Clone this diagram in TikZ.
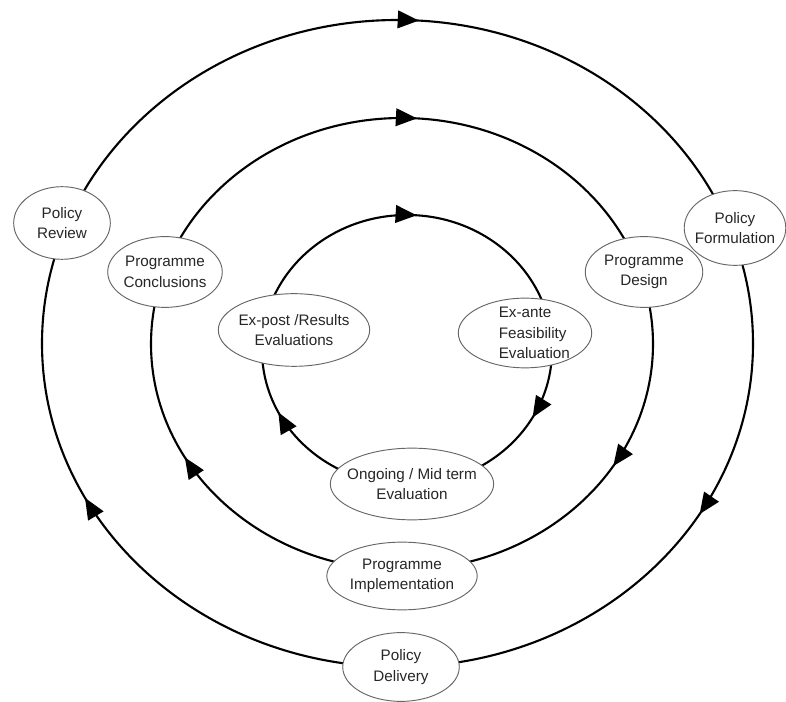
\documentclass[tikz,border=0pt]{standalone}
\usepackage{fontspec}
\setmainfont{Liberation Sans}
\usetikzlibrary{shapes.geometric,arrows.meta,decorations.markings}

\begin{document}
\begin{tikzpicture}[
    x=0.03cm, y=0.03cm,
    stage/.style={
        ellipse,
        draw=black!60,
        line width=0.8pt,
        fill=white,
        inner sep=0pt,
    },
    stagetext/.style={
        inner sep=0pt,
        align=center,
        text=black!85,
        font=\fontsize{13}{17.5}\selectfont,
    },
    ring/.style n args={3}{
        line width=1.8pt,
        postaction={decorate},
        decoration={markings,
            mark=at position #1 with {\arrowreversed{Triangle[length=18pt,width=15pt]}},
            mark=at position #2 with {\arrowreversed{Triangle[length=18pt,width=15pt]}},
            mark=at position #3 with {\arrowreversed{Triangle[length=18pt,width=15pt]}},
        },
    },
]
    \useasboundingbox (0,0) rectangle (786,702);

    % the three cycles, drawn first so the stages sit on top
    \draw[ring={0.240}{0.576}{0.915}] (397.5,358.5) ellipse [x radius=355.5, y radius=323.5];
    \draw[ring={0.240}{0.580}{0.913}] (402,358) ellipse [x radius=251, y radius=226];
    \draw[ring={0.239}{0.574}{0.919}] (407,352) ellipse [x radius=145, y radius=135];

    % policy level
    \node[stage,minimum width=82.5pt,minimum height=62pt,label={[stagetext]center:Policy\\Review}] (review) at (62,479) {};
    \node[stage,minimum width=86.7pt,minimum height=63.8pt,label={[stagetext]center:Policy\\Formulation}] (formulation) at (735,474) {};
    \node[stage,minimum width=99.5pt,minimum height=58.7pt,label={[stagetext]center:Policy\\Delivery}] (delivery) at (401,35) {};

    % programme level
    \node[stage,minimum width=97.8pt,minimum height=60.4pt,label={[stagetext]center:Programme\\Conclusions}] (conclusions) at (165,430) {};
    \node[stage,minimum width=100.3pt,minimum height=60.4pt,label={[stagetext]center:Programme\\Design}] (design) at (644,430) {};
    \node[stage,minimum width=128.4pt,minimum height=57.8pt,label={[stagetext]center:Programme\\Implementation}] (implementation) at (402,126) {};

    % evaluation level
    \node[stage,minimum width=129.2pt,minimum height=62pt,label={[stagetext]center:Ex-post /Results\\Evaluations}] (expost) at (294,372) {};
    \node[stage,minimum width=113.9pt,minimum height=59.5pt,label={[stagetext,align=left,xshift=8pt]center:Ex-ante\\Feasibility\\Evaluation}] (exante) at (525,369) {};
    \node[stage,minimum width=139.4pt,minimum height=61.2pt,label={[stagetext]center:Ongoing / Mid term\\Evaluation}] (ongoing) at (412,218) {};
\end{tikzpicture}
\end{document}
